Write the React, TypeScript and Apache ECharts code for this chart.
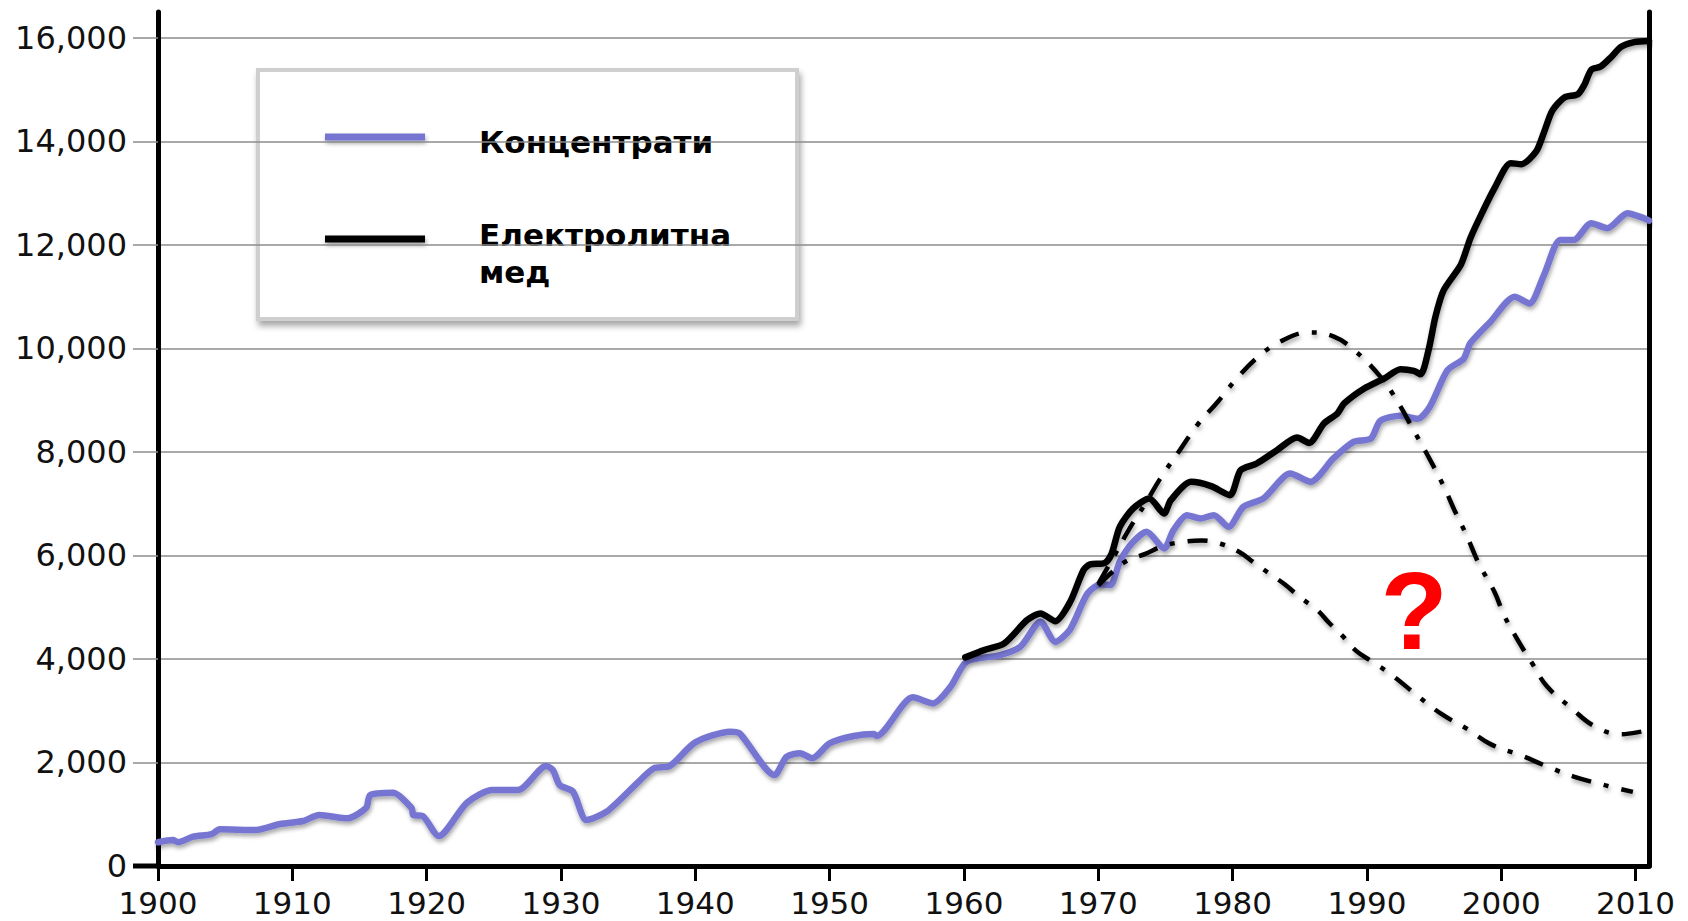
import React, { useEffect, useRef } from "react";
import * as echarts from "echarts";

// ---- Data ----
const xTicks = [1900, 1910, 1920, 1930, 1940, 1950, 1960, 1970, 1980, 1990, 2000, 2010];
const yTicks = [0, 2000, 4000, 6000, 8000, 10000, 12000, 14000, 16000];

const seriesNames = ["Концентрати", "Електролитна мед"];

const concentrates: [number, number][] = [
  [1900.0, 460], [1901.1, 500], [1901.5, 460], [1902.6, 566], [1904.0, 618], [1904.6, 709],
  [1907.3, 695], [1909.1, 811], [1910.8, 869], [1912.0, 985], [1914.1, 921], [1915.5, 1126],
  [1915.8, 1371], [1917.5, 1416], [1918.9, 1114], [1919.0, 985], [1919.7, 966], [1920.9, 579],
  [1923.0, 1222], [1924.9, 1468], [1926.8, 1468], [1928.9, 1931], [1929.4, 1854], [1929.9, 1564],
  [1930.9, 1435], [1931.9, 888], [1933.4, 1049], [1935.9, 1661], [1936.9, 1887], [1938.1, 1931],
  [1940.0, 2389], [1942.6, 2594], [1943.3, 2563], [1945.9, 1757], [1946.8, 2111], [1947.8, 2177],
  [1948.7, 2080], [1950.0, 2370], [1951.8, 2511], [1953.3, 2549], [1953.5, 2511], [1956.2, 3258],
  [1957.7, 3142], [1959.0, 3463], [1960.2, 3946], [1962.7, 4075], [1964.2, 4235], [1965.7, 4718],
  [1966.8, 4332], [1967.9, 4570], [1969.2, 5267], [1970.2, 5446], [1970.9, 5427], [1971.6, 5877],
  [1972.5, 6232], [1973.6, 6456], [1974.9, 6136], [1975.6, 6489], [1976.6, 6779], [1977.6, 6715],
  [1978.6, 6779], [1979.7, 6553], [1980.8, 6939], [1982.3, 7101], [1984.3, 7584], [1985.8, 7422],
  [1987.5, 7874], [1989.0, 8194], [1990.3, 8260], [1991.0, 8600], [1992.5, 8700], [1993.8, 8640],
  [1994.7, 8880], [1996.0, 9580], [1997.2, 9800], [1997.7, 10100], [1999.2, 10517], [2001.0, 11000],
  [2002.1, 10870], [2003.2, 11432], [2004.4, 12097], [2005.4, 12097], [2006.7, 12420], [2007.9, 12323],
  [2009.4, 12613], [2010.6, 12517], [2011.0, 12470],
];

const electrolytic: [number, number][] = [
  [1960.1, 4031], [1961.5, 4172], [1963.0, 4301], [1964.7, 4751], [1965.7, 4880], [1966.8, 4730],
  [1967.9, 5100], [1968.9, 5717], [1969.4, 5827], [1970.5, 5857], [1971.0, 6039], [1971.6, 6553],
  [1972.6, 6908], [1973.8, 7101], [1974.9, 6811], [1975.4, 7068], [1976.9, 7422], [1978.4, 7339],
  [1979.8, 7165], [1980.6, 7648], [1981.8, 7777], [1983.3, 8034], [1984.8, 8279], [1985.7, 8175],
  [1986.8, 8550], [1987.8, 8743], [1988.3, 8936], [1989.8, 9226], [1991.3, 9420], [1992.5, 9600],
  [1993.5, 9566], [1994.0, 9500], [1994.6, 9980], [1995.1, 10612], [1995.7, 11117], [1997.0, 11621],
  [1997.7, 12130], [1998.5, 12580], [1999.5, 13096], [2000.7, 13580], [2001.5, 13560], [2002.6, 13806],
  [2003.2, 14189], [2003.8, 14596], [2004.7, 14849], [2005.7, 14911], [2006.2, 15100], [2006.7, 15383],
  [2007.4, 15445], [2008.2, 15634], [2008.9, 15823], [2009.9, 15917], [2011.0, 15940],
];

const scenarioHigh: [number, number][] = [
  [1970.0, 5450], [1971.2, 6000], [1972.4, 6553], [1973.5, 7000], [1974.6, 7480], [1976.1, 8045],
  [1977.4, 8530], [1978.9, 8970], [1980.1, 9354], [1981.8, 9815], [1983.6, 10138], [1985.7, 10309],
  [1987.5, 10233], [1989.0, 9980], [1991.0, 9455], [1992.3, 8964], [1993.5, 8406], [1994.5, 7946],
  [1995.7, 7347], [1996.5, 6883], [1997.4, 6400], [1998.3, 5860], [1999.5, 5293], [2000.2, 4851],
  [2001.2, 4378], [2002.3, 3916], [2003.4, 3471], [2005.2, 3056], [2006.9, 2707], [2008.9, 2546],
  [2010.8, 2611], [2011.0, 2620],
];

const scenarioLow: [number, number][] = [
  [1970.0, 5420], [1971.0, 5670], [1972.1, 5892], [1973.5, 6032], [1974.8, 6180], [1976.2, 6259],
  [1977.7, 6290], [1979.1, 6226], [1980.5, 6066], [1981.6, 5860], [1982.8, 5640], [1983.9, 5438],
  [1985.0, 5198], [1986.3, 4946], [1987.2, 4694], [1988.2, 4441], [1989.2, 4157], [1990.4, 3948],
  [1992.0, 3662], [1993.8, 3280], [1995.6, 2928], [1997.5, 2642], [1999.2, 2355], [2001.5, 2134],
  [2003.4, 1925], [2005.4, 1728], [2007.7, 1563], [2009.8, 1432],
];

const PURPLE = "#7676D2";
const LINE_SHADOW = {
  shadowColor: "rgba(0,0,0,0.35)",
  shadowBlur: 4,
  shadowOffsetX: 1,
  shadowOffsetY: 3,
};

export default function App() {
  const ref = useRef<HTMLDivElement>(null);

  useEffect(() => {
    if (!ref.current) return;
    const chart = echarts.init(ref.current, undefined, { renderer: "svg" });

    const axisFont = {
      fontFamily: "DejaVu Sans",
      fontSize: 32,
      color: "#111",
    };

    const dashStyle = {
      color: "#000",
      width: 4.5,
      type: [20, 13, 5, 13] as number[],
      cap: "butt" as const,
      ...LINE_SHADOW,
    };

    const option: any = {
      animation: false,
      backgroundColor: "#fff",
      grid: {
        left: 158,
        right: 39,
        top: 12,
        bottom: 55,
        containLabel: false,
        outerBoundsMode: "none",
      },
      xAxis: {
        type: "value",
        min: 1900,
        max: 2011,
        interval: 10,
        axisLine: { show: true, onZero: false, lineStyle: { color: "#000", width: 5 } },
        axisTick: {
          show: true,
          length: 15,
          customValues: xTicks,
          lineStyle: { color: "#000", width: 3 },
        },
        axisLabel: {
          ...axisFont,
          fontSize: 31,
          margin: 21,
          customValues: xTicks,
          formatter: (v: number) => String(v),
        },
        splitLine: { show: false },
      },
      yAxis: [
        {
          type: "value",
          min: 0,
          max: 16500,
          interval: 2000,
          axisLine: { show: true, onZero: false, lineStyle: { color: "#000", width: 5 } },
          axisTick: {
            show: true,
            length: 25,
            customValues: yTicks,
            lineStyle: { color: "#8c8c8c", width: 1.5 },
          },
          axisLabel: {
            ...axisFont,
            margin: 31,
            customValues: yTicks,
            formatter: (v: number) => v.toLocaleString("en-US"),
          },
          splitLine: {
            show: true,
            lineStyle: { color: "#8c8c8c", width: 1.6 },
          },
        },
        {
          type: "value",
          position: "right",
          min: 0,
          max: 16500,
          interval: 2000,
          axisLine: { show: true, onZero: false, lineStyle: { color: "#000", width: 5 } },
          axisTick: { show: false },
          axisLabel: { show: false },
          splitLine: { show: false },
        },
      ],
      series: [
        {
          name: seriesNames[0],
          type: "line",
          data: concentrates,
          symbol: "none",
          smooth: 0.25,
          silent: true,
          lineStyle: { color: PURPLE, width: 6.5, join: "round", cap: "round", ...LINE_SHADOW },
          z: 3,
        },
        {
          name: seriesNames[1],
          type: "line",
          data: electrolytic,
          symbol: "none",
          smooth: 0.25,
          silent: true,
          lineStyle: { color: "#000", width: 6.5, join: "round", cap: "round", ...LINE_SHADOW },
          z: 4,
        },
        {
          name: "scenario-high",
          type: "line",
          data: scenarioHigh,
          symbol: "none",
          smooth: 0.4,
          silent: true,
          lineStyle: dashStyle,
          z: 5,
        },
        {
          name: "scenario-low",
          type: "line",
          data: scenarioLow,
          symbol: "none",
          smooth: 0.4,
          silent: true,
          lineStyle: dashStyle,
          z: 5,
        },
      ],
      graphic: [
        // extension of the zero line to the left of the y axis
        {
          type: "line",
          z: 50,
          shape: { x1: 133, y1: 866, x2: 160, y2: 866 },
          style: { stroke: "#000", lineWidth: 5 },
        },
        // legend box
        {
          type: "group",
          z: 100,
          children: [
            {
              type: "rect",
              shape: { x: 258, y: 70, width: 539, height: 249 },
              style: {
                fill: "#fff",
                stroke: "#cfcfcf",
                lineWidth: 4,
                shadowColor: "rgba(0,0,0,0.35)",
                shadowBlur: 6,
                shadowOffsetX: 2,
                shadowOffsetY: 5,
              },
            },
            {
              type: "rect",
              shape: { x: 325, y: 133.5, width: 100, height: 7 },
              style: { fill: PURPLE, ...LINE_SHADOW },
            },
            {
              type: "rect",
              shape: { x: 325, y: 235.5, width: 100, height: 7 },
              style: { fill: "#000", ...LINE_SHADOW },
            },
            {
              type: "text",
              x: 479,
              y: 142,
              style: {
                text: "Концентрати",
                fill: "#000",
                font: "bold 31px 'DejaVu Sans'",
                verticalAlign: "middle",
                align: "left",
              },
            },
            {
              type: "text",
              x: 479,
              y: 253,
              style: {
                text: "Електролитна\nмед",
                fill: "#000",
                font: "bold 31px 'DejaVu Sans'",
                lineHeight: 37,
                verticalAlign: "middle",
                align: "left",
              },
            },
          ],
        },
        // question mark annotation
        {
          type: "text",
          z: 100,
          x: 1414,
          y: 610,
          style: {
            text: "?",
            fill: "#ff0000",
            font: "bold 110px 'Liberation Sans'",
            align: "center",
            verticalAlign: "middle",
            shadowColor: "rgba(0,0,0,0.2)",
            shadowBlur: 3,
            shadowOffsetY: 2,
          },
        },
      ],
    };

    chart.setOption(option);
    return () => chart.dispose();
  }, []);

  return (
    <div
      ref={ref}
      style={{ position: "fixed", left: 0, top: 0, width: 1688, height: 921, background: "#fff" }}
    />
  );
}
